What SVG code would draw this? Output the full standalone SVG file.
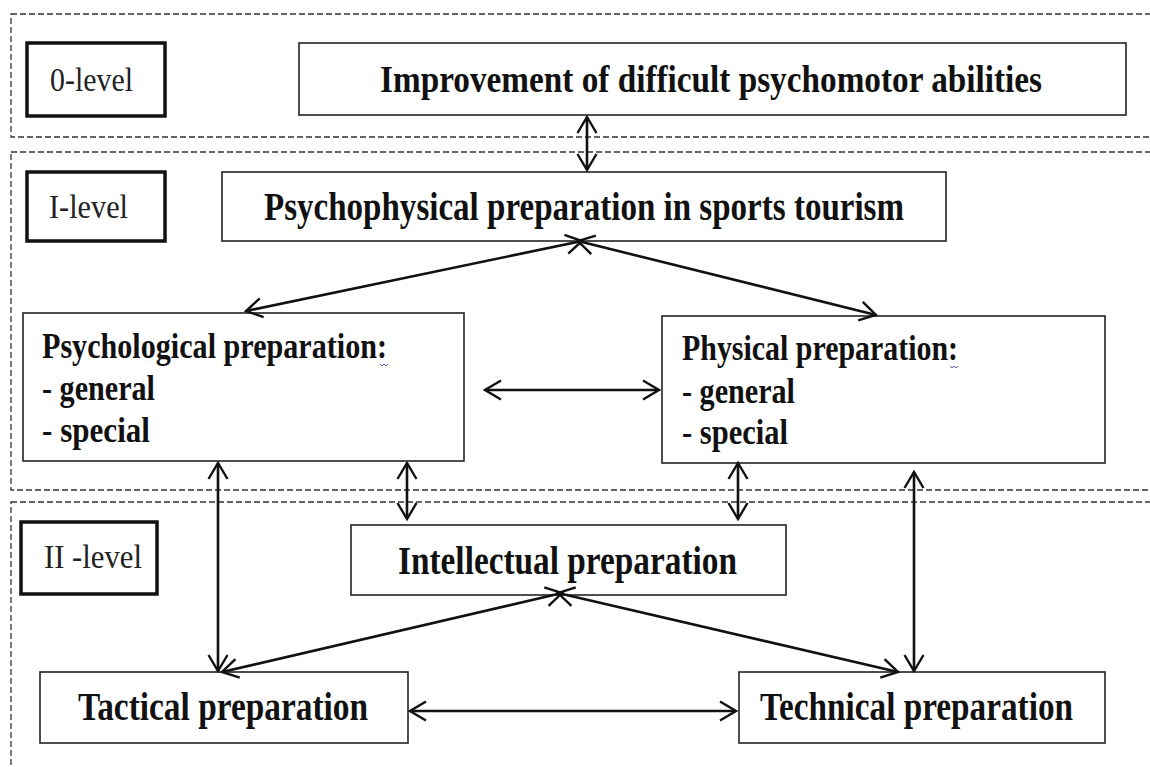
<svg xmlns="http://www.w3.org/2000/svg" width="1150" height="767" viewBox="0 0 1150 767">
<style>
.band{fill:none;stroke:#333;stroke-width:1.3;stroke-dasharray:6 3}
.box{fill:#fff;stroke:#222;stroke-width:1.6}
.lvl{fill:#fff;stroke:#111;stroke-width:3.5}
.lt{font-family:"Liberation Serif","Times New Roman",serif;font-size:34px;fill:#222}
.bt{font-family:"Liberation Serif","Times New Roman",serif;font-size:39px;font-weight:bold;fill:#111}
.bi{font-family:"Liberation Serif","Times New Roman",serif;font-size:37px;font-weight:bold;fill:#111}
.bs{font-family:"Liberation Serif","Times New Roman",serif;font-size:35px;font-weight:bold;fill:#111}
.con{fill:none;stroke:#111;stroke-width:2.6;marker-start:url(#ah);marker-end:url(#ah)}
.sq{fill:none;stroke:#5a5ad0;stroke-width:1}
</style>
<defs>
<marker id="ah" viewBox="-19 -12 21 24" refX="0" refY="0" markerWidth="21" markerHeight="24" markerUnits="userSpaceOnUse" orient="auto-start-reverse">
<path d="M-16,-9.5 L0,0 L-16,9.5" fill="none" stroke="#111" stroke-width="2.4"/>
</marker>
</defs>
<rect width="1150" height="767" fill="#fff"/>
<g id="bands">
<rect class="band" x="11" y="14" width="1160" height="123"/>
<rect class="band" x="11" y="152" width="1160" height="338"/>
<rect class="band" x="11" y="502" width="1160" height="290"/>
</g>
<g id="level0"><rect class="lvl" x="27" y="43" width="138" height="73"/><text class="lt" x="50" y="91" textLength="83" lengthAdjust="spacingAndGlyphs">0-level</text></g>
<g id="level1"><rect class="lvl" x="27" y="172" width="138" height="69"/><text class="lt" x="49" y="218" textLength="79" lengthAdjust="spacingAndGlyphs">I-level</text></g>
<g id="level2"><rect class="lvl" x="21" y="522" width="136" height="72"/><text class="lt" x="44" y="568" textLength="98" lengthAdjust="spacingAndGlyphs">II -level</text></g>
<g id="improvement"><rect class="box" x="299" y="43" width="827" height="72"/><text class="bi" x="380" y="92" textLength="662" lengthAdjust="spacingAndGlyphs">Improvement of difficult psychomotor abilities</text></g>
<g id="psychophysical"><rect class="box" x="222" y="172" width="724" height="69"/><text class="bt" x="264" y="220" textLength="640" lengthAdjust="spacingAndGlyphs">Psychophysical preparation in sports tourism</text></g>
<g id="psychological"><rect class="box" x="23" y="313" width="441" height="148"/>
<text class="bs" x="42" y="358" textLength="345" lengthAdjust="spacingAndGlyphs">Psychological preparation:</text>
<text class="bs" x="42" y="400" textLength="113" lengthAdjust="spacingAndGlyphs">- general</text>
<text class="bs" x="42" y="442" textLength="108" lengthAdjust="spacingAndGlyphs">- special</text>
<path class="sq" d="M380,364 l2,2 l2,-2 l2,2 l2,-2"/></g>
<g id="physical"><rect class="box" x="662" y="316" width="443" height="147"/>
<text class="bs" x="682" y="360" textLength="276" lengthAdjust="spacingAndGlyphs">Physical preparation:</text>
<text class="bs" x="682" y="403" textLength="113" lengthAdjust="spacingAndGlyphs">- general</text>
<text class="bs" x="682" y="444" textLength="106" lengthAdjust="spacingAndGlyphs">- special</text>
<path class="sq" d="M950,366 l2,2 l2,-2 l2,2 l2,-2"/></g>
<g id="intellectual"><rect class="box" x="351" y="525" width="435" height="70"/><text class="bt" x="398" y="574" textLength="339" lengthAdjust="spacingAndGlyphs">Intellectual preparation</text></g>
<g id="tactical"><rect class="box" x="40" y="672" width="368" height="71"/><text class="bt" x="78" y="720" textLength="290" lengthAdjust="spacingAndGlyphs">Tactical preparation</text></g>
<g id="technical"><rect class="box" x="739" y="672" width="366" height="71"/><text class="bt" x="760" y="720" textLength="313" lengthAdjust="spacingAndGlyphs">Technical preparation</text></g>
<g id="connectors">
<line class="con" x1="587" y1="117" x2="587" y2="170"/>
<line class="con" x1="582" y1="241" x2="246" y2="311"/>
<line class="con" x1="578" y1="241" x2="876" y2="315"/>
<line class="con" x1="485" y1="390" x2="659" y2="390"/>
<line class="con" x1="218" y1="463" x2="218" y2="671"/>
<line class="con" x1="407" y1="463" x2="407" y2="519"/>
<line class="con" x1="738" y1="463" x2="738" y2="519"/>
<line class="con" x1="914" y1="472" x2="914" y2="671"/>
<line class="con" x1="562" y1="593" x2="222" y2="672"/>
<line class="con" x1="558" y1="593" x2="898" y2="672"/>
<line class="con" x1="410" y1="711" x2="736" y2="711"/>
</g>
</svg>
